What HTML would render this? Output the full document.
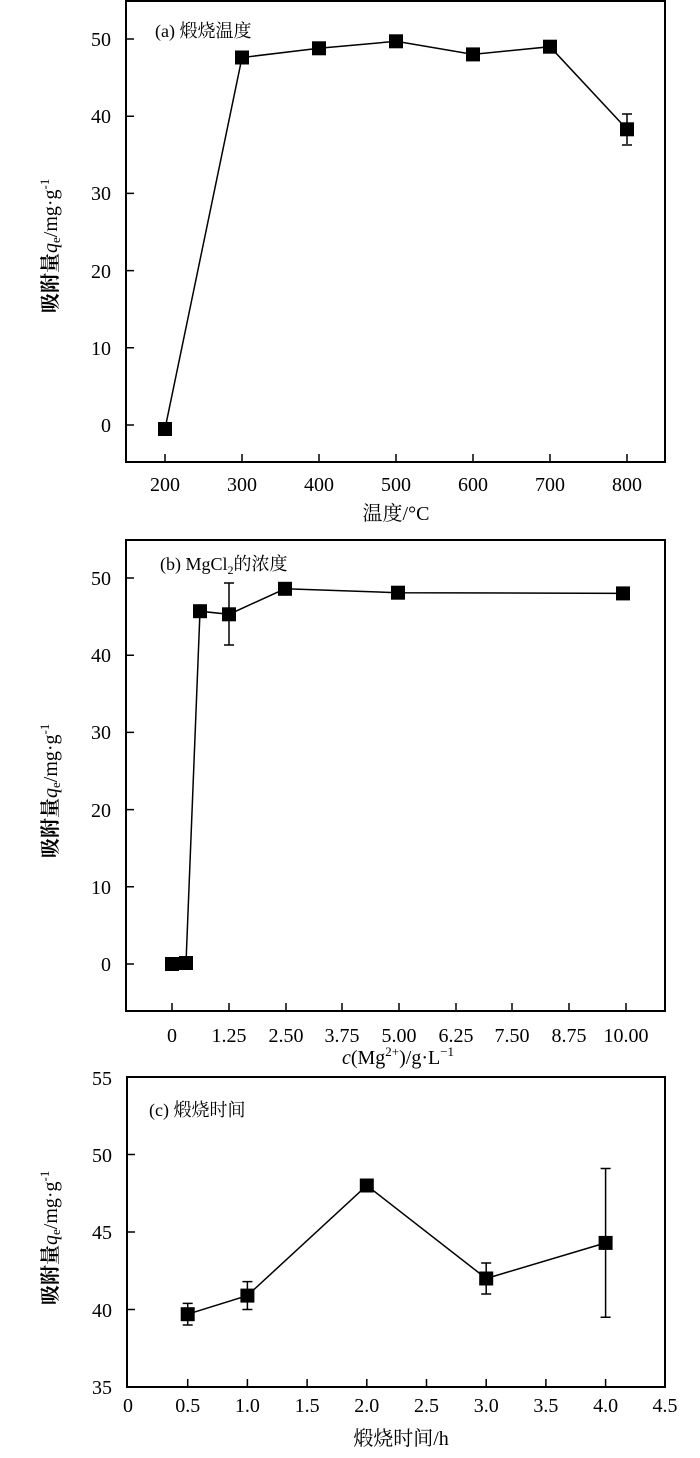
<!DOCTYPE html>
<html><head><meta charset="utf-8"><style>
html,body{margin:0;padding:0;background:#fff;}
svg{display:block;}
text{font-family:"Liberation Serif","Noto Serif CJK SC","Noto Sans CJK SC",serif;fill:#000;}
</style></head><body>
<svg width="700" height="1458" viewBox="0 0 700 1458" xmlns="http://www.w3.org/2000/svg">
<g stroke="#000" fill="none" stroke-width="1.5">
<!-- chart a -->
<rect x="126" y="1" width="539" height="461" stroke-width="2"/>
<path d="M126 425h8M126 347.8h8M126 270.6h8M126 193.4h8M126 116.2h8M126 39h8"/>
<path d="M165 462v-8M242 462v-8M319 462v-8M396 462v-8M473 462v-8M550 462v-8M627 462v-8"/>
<polyline points="165,428.9 242,57.5 319,48.3 396,41.3 473,54.4 550,46.7 627,129.3"/>
<path d="M627 114v30M622 114h10M622 145h10"/>
<!-- chart b -->
<rect x="126" y="540" width="539" height="471" stroke-width="2"/>
<path d="M126 964h8M126 886.8h8M126 809.6h8M126 732.4h8M126 655.2h8M126 578h8"/>
<path d="M172 1011v-8M229 1011v-8M286 1011v-8M342 1011v-8M399 1011v-8M456 1011v-8M512 1011v-8M569 1011v-8M626 1011v-8"/>
<polyline points="172,964 186,963 200,611.2 229,614.3 285,588.8 398,592.7 623,593.4"/>
<path d="M229 583v62M224 583h10M224 645h10"/>
<!-- chart c -->
<rect x="127" y="1077" width="538" height="310" stroke-width="2"/>
<path d="M127 1154.5h8M127 1232h8M127 1309.5h8"/>
<path d="M187.7 1387v-8M247.4 1387v-8M307.1 1387v-8M366.8 1387v-8M426.5 1387v-8M486.2 1387v-8M545.9 1387v-8M605.6 1387v-8"/>
<polyline points="187.7,1314.2 247.4,1295.6 366.8,1185.5 486.2,1278.5 605.6,1242.9"/>
<path d="M187.7 1303.4v21.6M182.7 1303.4h10M182.7 1325h10"/>
<path d="M247.4 1281.6v27.9M242.4 1281.6h10M242.4 1309.5h10"/>
<path d="M486.2 1263v31M481.2 1263h10M481.2 1294h10"/>
<path d="M605.6 1168.5v148.8M600.6 1168.5h10M600.6 1317.3h10"/>
</g>
<g fill="#000">
<rect x="158" y="422" width="14" height="14"/><rect x="235" y="50.5" width="14" height="14"/>
<rect x="312" y="41.3" width="14" height="14"/><rect x="389" y="34.3" width="14" height="14"/>
<rect x="466" y="47.4" width="14" height="14"/><rect x="543" y="39.7" width="14" height="14"/>
<rect x="620" y="122.3" width="14" height="14"/>
<rect x="165" y="957" width="14" height="14"/><rect x="179" y="956" width="14" height="14"/>
<rect x="193" y="604.2" width="14" height="14"/><rect x="222" y="607.3" width="14" height="14"/>
<rect x="278" y="581.8" width="14" height="14"/><rect x="391" y="585.7" width="14" height="14"/>
<rect x="616" y="586.4" width="14" height="14"/>
<rect x="180.7" y="1307.2" width="14" height="14"/><rect x="240.4" y="1288.6" width="14" height="14"/>
<rect x="359.8" y="1178.5" width="14" height="14"/><rect x="479.2" y="1271.5" width="14" height="14"/>
<rect x="598.6" y="1235.9" width="14" height="14"/>
</g>
<g font-size="20" text-anchor="end">
<text x="111" y="432">0</text><text x="111" y="355">10</text><text x="111" y="278">20</text>
<text x="111" y="200">30</text><text x="111" y="123">40</text><text x="111" y="46">50</text>
<text x="111" y="971">0</text><text x="111" y="894">10</text><text x="111" y="817">20</text>
<text x="111" y="739">30</text><text x="111" y="662">40</text><text x="111" y="585">50</text>
<text x="112" y="1394">35</text><text x="112" y="1317">40</text><text x="112" y="1239">45</text>
<text x="112" y="1162">50</text><text x="112" y="1085">55</text>
</g>
<g font-size="20" text-anchor="middle">
<text x="165" y="491">200</text><text x="242" y="491">300</text><text x="319" y="491">400</text>
<text x="396" y="491">500</text><text x="473" y="491">600</text><text x="550" y="491">700</text><text x="627" y="491">800</text>
<text x="172" y="1042">0</text><text x="229" y="1042">1.25</text><text x="286" y="1042">2.50</text>
<text x="342" y="1042">3.75</text><text x="399" y="1042">5.00</text><text x="456" y="1042">6.25</text>
<text x="512" y="1042">7.50</text><text x="569" y="1042">8.75</text><text x="626" y="1042">10.00</text>
<text x="128" y="1412">0</text><text x="187.7" y="1412">0.5</text><text x="247.4" y="1412">1.0</text>
<text x="307.1" y="1412">1.5</text><text x="366.8" y="1412">2.0</text><text x="426.5" y="1412">2.5</text>
<text x="486.2" y="1412">3.0</text><text x="545.9" y="1412">3.5</text><text x="605.6" y="1412">4.0</text>
<text x="665" y="1412">4.5</text>
<text x="396" y="520">温度/°C</text>
<text x="398" y="1064"><tspan font-style="italic">c</tspan>(Mg<tspan font-size="13" dy="-8">2+</tspan><tspan dy="8">)/g·L</tspan><tspan font-size="13" dy="-8">−1</tspan></text>
<text x="401" y="1445">煅烧时间/h</text>
</g>
<g font-size="18">
<text x="155" y="37">(a) 煅烧温度</text>
<text x="160" y="570">(b) MgCl<tspan font-size="12" dy="4">2</tspan><tspan dy="-4">的浓度</tspan></text>
<text x="149" y="1116">(c) 煅烧时间</text>
</g>
<g font-size="20" font-weight="bold">
<text transform="translate(57,313) rotate(-90)">吸附量<tspan font-weight="normal" font-style="italic">q</tspan><tspan font-weight="normal" font-size="13" dy="3">e</tspan><tspan font-weight="normal" dy="-3">/mg·g</tspan><tspan font-weight="normal" font-size="13" dy="-8">-1</tspan></text>
<text transform="translate(57,858) rotate(-90)">吸附量<tspan font-weight="normal" font-style="italic">q</tspan><tspan font-weight="normal" font-size="13" dy="3">e</tspan><tspan font-weight="normal" dy="-3">/mg·g</tspan><tspan font-weight="normal" font-size="13" dy="-8">-1</tspan></text>
<text transform="translate(57,1305) rotate(-90)">吸附量<tspan font-weight="normal" font-style="italic">q</tspan><tspan font-weight="normal" font-size="13" dy="3">e</tspan><tspan font-weight="normal" dy="-3">/mg·g</tspan><tspan font-weight="normal" font-size="13" dy="-8">-1</tspan></text>
</g>
</svg>
</body></html>
